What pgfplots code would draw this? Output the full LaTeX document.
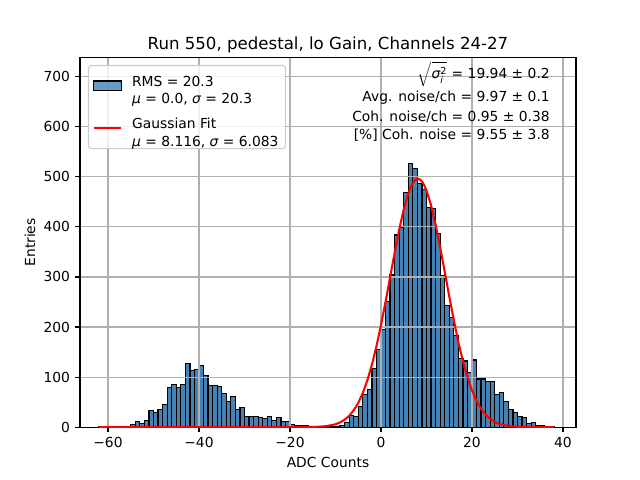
\documentclass[border=0pt]{standalone}
\usepackage{fontspec}
\setmainfont{DejaVu Sans}
\usepackage{pgfplots}
\usepackage{pgfplotstable}
\pgfplotsset{compat=1.18}
\definecolor{steel}{RGB}{70,130,180}
\definecolor{gridgray}{HTML}{B0B0B0}
\definecolor{legframe}{HTML}{CCCCCC}
\pgfplotstableread{
x y
-62 1
-61 0
-60 0
-59 1
-58 0
-57 1
-56 1
-55 5
-54 11
-53 7
-52 13
-51 33
-50 29
-49 36
-48 45
-47 79
-46 85
-45 79
-44 85
-43 127
-42 113
-41 115
-40 123
-39 103
-38 83
-37 83
-36 82
-35 67
-34 51
-33 62
-32 35
-31 39
-30 21
-29 21
-28 21
-27 19
-26 17
-25 21
-24 13
-23 19
-22 11
-21 11
-20 5
-19 3
-18 3
-17 3
-16 1
-15 1
-14 0
-13 1
-12 1
-11 2
-10 2
-9 3
-8 10
-7 24
-6 22
-5 42
-4 65
-3 75
-2 117
-1 155
0 195
1 251
2 304
3 384
4 399
5 469
6 527
7 516
8 487
9 475
10 439
11 437
12 387
13 302
14 243
15 219
16 183
17 137
18 132
19 109
20 134
21 96
22 96
23 91
24 91
25 65
26 69
27 51
28 35
29 29
30 21
31 19
32 7
33 10
34 3
35 4
36 1
37 2
38 0
}\histdata
\pgfplotstableread{
x y
-62 0
-40 0
-20 0
-15 0.36
-12 2.09
-10 5.88
-9 9.47
-8 14.84
-7 22.6
-6 33.6
-5 48.5
-4 68.2
-3 93.4
-2 124.4
-1 161.4
0 203.7
1 250.2
2 299.2
3 348.2
4 394.5
5 435.0
6 466.9
6.5 478.8
7 487.7
7.5 493.5
8 495.9
8.5 495.0
9 490.8
9.5 483.3
10 472.8
11 443.3
12 404.5
13 359.3
14 310.7
15 261.5
16 214.1
17 169.7
18 132.5
19 100.1
20 73.6
21 52.6
22 36.7
23 24.9
24 16.4
25 10.5
26 6.59
28 2.37
30 0.77
33 0.12
38 0
}\fitdata
\begin{document}
\begin{tikzpicture}
\begin{axis}[
  set layers,
  at={(0.8in,0.528in)}, anchor=south west,
  scale only axis, width=4.96in, height=3.696in,
  xmin=-66.15, xmax=42.86, ymin=0, ymax=738,
  xtick={-60,-40,-20,0,20,40},
  xticklabels={−60,−40,−20,0,20,40},
  ytick={0,100,200,300,400,500,600,700},
  yticklabels={0,100,200,300,400,500,600,700},
  tick align=outside, tick pos=left,
  major tick length=3.5pt,
  tick style={black, line width=0.8pt},
  grid=major, grid style={gridgray, line width=0.8pt},
  axis line style={line width=0.8pt},
  xticklabel style={anchor=north, inner sep=0pt, yshift=-3.5pt, font=\fontsize{10}{12}\selectfont},
  yticklabel style={anchor=east, inner sep=0pt, xshift=-3.5pt, font=\fontsize{10}{12}\selectfont},
  legend style={at={(0.0161,0.98)}, anchor=north west, draw=legframe,
    fill=white, fill opacity=0.8, text opacity=1, draw opacity=1,
    rounded corners=2pt, line width=0.8pt,
    inner xsep=3pt, inner ysep=4.5pt, row sep=10pt,
    font=\fontsize{10}{12.5}\selectfont,
    /tikz/every odd column/.append style={column sep=5pt}},
  legend cell align=left,
]
\addplot[ybar interval, fill=steel, draw=black, line width=0.9pt,
  on layer=axis background,
  legend image code/.code={\draw[sharp corners, fill=steel, draw=black, line width=0.9pt] (0pt,-3.5pt) rectangle (20pt,3.5pt);}]
  table[x=x, y=y] {\histdata};
\addlegendentry{\begin{tabular}{@{}l@{}}RMS = 20.3\\{\itshape μ} = 0.0, {\itshape σ} = 20.3\end{tabular}}
\addplot[red, line width=1.5pt, mark=none,
  legend image code/.code={\draw[sharp corners, red, line width=1.5pt] (0pt,0pt) -- (20pt,0pt);}]
  table[x=x, y=y] {\fitdata};
\addlegendentry{\begin{tabular}{@{}l@{}}Gaussian Fit\\{\itshape μ} = 8.116, {\itshape σ} = 6.083\end{tabular}}
\end{axis}
\node[anchor=base, font=\fontsize{12}{14.4}\selectfont] at (3.28in,4.224in) [yshift=6pt] {Run 550, pedestal, lo Gain, Channels 24-27};
\node[anchor=base, font=\fontsize{10}{12}\selectfont] at (3.28in,0.13in) {ADC Counts};
\node[anchor=base, rotate=90, font=\fontsize{10}{12}\selectfont] at (0.35in,2.376in) {Entries};
\begin{scope}[every node/.style={inner sep=0pt, anchor=base east, font=\fontsize{10}{12}\selectfont}]
\node at (5.50in,4.01in) {$\sqrt{\mbox{\itshape σ}^{\mbox{\scriptsize 2}}_{\mbox{\scriptsize\itshape i}}}$ = 19.94 ± 0.2};
\node at (5.50in,3.783in) {Avg. noise/ch = 9.97 ± 0.1};
\node at (5.50in,3.585in) {Coh. noise/ch = 0.95 ± 0.38};
\node at (5.50in,3.40in) {[\%] Coh. noise = 9.55 ± 3.8};
\end{scope}
\pgfresetboundingbox
\path[use as bounding box] (0,0) rectangle (6.4in,4.8in);
\end{tikzpicture}
\end{document}
